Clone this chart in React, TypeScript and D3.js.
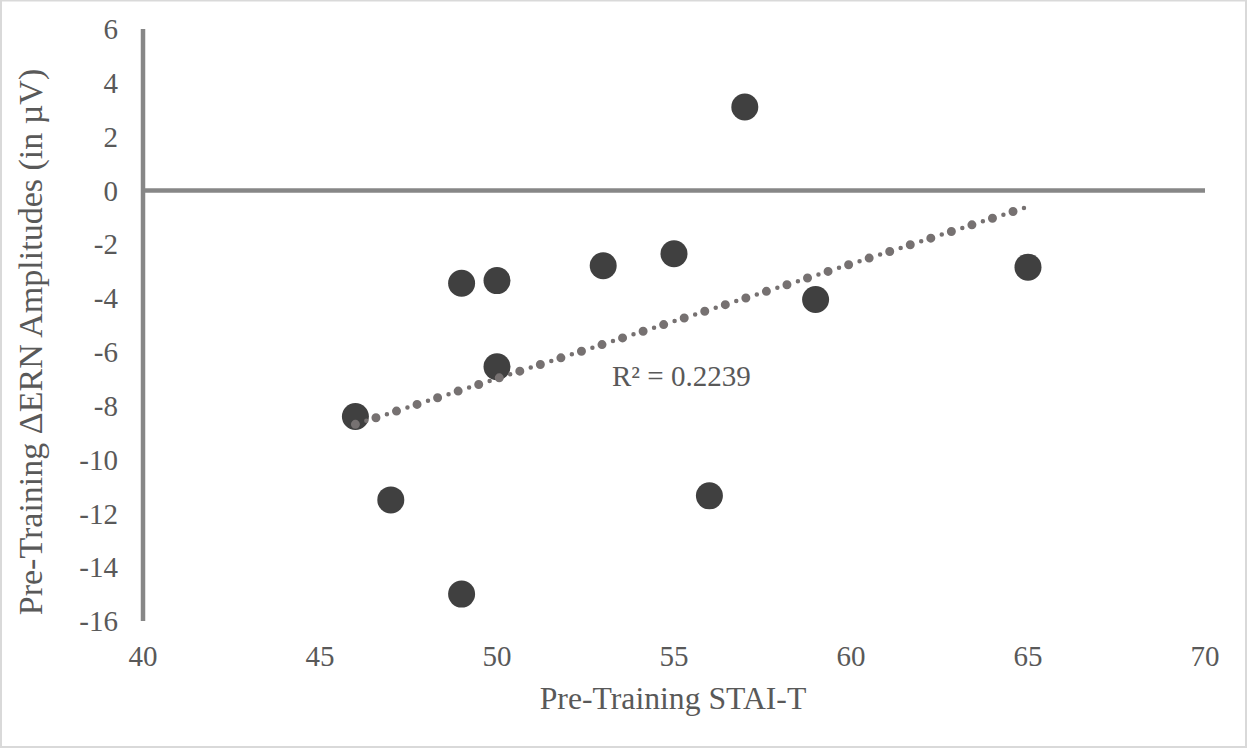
import { useEffect, useRef } from "react"
import * as d3 from "d3"

// Pre-Training STAI-T scores
const staiT = [46, 47, 49, 49, 50, 50, 53, 55, 56, 57, 59, 65]
// Pre-Training ΔERN amplitudes (µV)
const deltaERN = [-8.4, -11.5, -3.45, -15, -3.35, -6.55, -2.8, -2.35, -11.35, 3.1, -4.05, -2.85]

const xTicks = [40, 45, 50, 55, 60, 65, 70]
const yTicks = [6, 4, 2, 0, -2, -4, -6, -8, -10, -12, -14, -16]

const xTitle = "Pre-Training STAI-T"
const yTitle = "Pre-Training ΔERN Amplitudes (in µV)"
const r2Label = "R² = 0.2239"

const W = 1247
const H = 748
const FONT = "'Liberation Serif', 'Times New Roman', serif"

export default function App() {
  const svgRef = useRef<SVGSVGElement>(null)

  useEffect(() => {
    if (!svgRef.current) return
    const svg = d3.select(svgRef.current)
    svg.selectAll("*").remove()

    const x = d3.scaleLinear().domain([40, 70]).range([143, 1205])
    const y = d3.scaleLinear().domain([-16, 6]).range([621, 29])

    // Chart border
    svg
      .append("rect")
      .attr("x", 1)
      .attr("y", 0.5)
      .attr("width", W - 2)
      .attr("height", H - 1.5)
      .attr("fill", "#fff")
      .attr("stroke", "#d9d9d9")
      .attr("stroke-width", 2)

    // Y axis line
    svg
      .append("line")
      .attr("x1", x(40))
      .attr("x2", x(40))
      .attr("y1", y(6))
      .attr("y2", y(-16))
      .attr("stroke", "#878787")
      .attr("stroke-width", 4.5)

    // X axis line at y = 0
    svg
      .append("line")
      .attr("x1", x(40))
      .attr("x2", x(70))
      .attr("y1", y(0))
      .attr("y2", y(0))
      .attr("stroke", "#878787")
      .attr("stroke-width", 4.5)

    // Y tick labels
    svg
      .append("g")
      .selectAll("text")
      .data(yTicks)
      .enter()
      .append("text")
      .attr("x", 118)
      .attr("y", (d) => y(d))
      .attr("dy", "0.35em")
      .attr("text-anchor", "end")
      .attr("font-family", FONT)
      .attr("font-size", 29)
      .attr("fill", "#595959")
      .text((d) => d)

    // X tick labels (low position)
    svg
      .append("g")
      .selectAll("text")
      .data(xTicks)
      .enter()
      .append("text")
      .attr("x", (d) => x(d))
      .attr("y", 666)
      .attr("text-anchor", "middle")
      .attr("font-family", FONT)
      .attr("font-size", 29)
      .attr("fill", "#595959")
      .text((d) => d)

    // Axis titles
    svg
      .append("text")
      .attr("x", 673)
      .attr("y", 709)
      .attr("text-anchor", "middle")
      .attr("font-family", FONT)
      .attr("font-size", 31.7)
      .attr("fill", "#595959")
      .text(xTitle)

    svg
      .append("text")
      .attr("transform", `translate(42,342) rotate(-90)`)
      .attr("text-anchor", "middle")
      .attr("font-family", FONT)
      .attr("font-size", 34)
      .attr("fill", "#595959")
      .text(yTitle)

    // Points
    const pts = staiT.map((v, i) => ({ x: v, y: deltaERN[i] }))
    svg
      .append("g")
      .selectAll("circle")
      .data(pts)
      .enter()
      .append("circle")
      .attr("cx", (d) => x(d.x))
      .attr("cy", (d) => y(d.y))
      .attr("r", 13.5)
      .attr("fill", "#404040")

    // Linear trendline (least squares)
    const mx = d3.mean(staiT) as number
    const my = d3.mean(deltaERN) as number
    let sxy = 0
    let sxx = 0
    pts.forEach((p) => {
      sxy += (p.x - mx) * (p.y - my)
      sxx += (p.x - mx) * (p.x - mx)
    })
    const slope = sxy / sxx
    const icpt = my - slope * mx
    const [x0, x1] = d3.extent(staiT) as [number, number]
    const trend = [x0, x1].map((v) => ({ x: v, y: icpt + slope * v }))
    const line = d3
      .line<{ x: number; y: number }>()
      .x((d) => x(d.x))
      .y((d) => y(d.y))

    svg
      .append("path")
      .attr("d", line(trend))
      .attr("fill", "none")
      .attr("stroke", "#767171")
      .attr("stroke-width", 9)
      .attr("stroke-linecap", "round")
      .attr("stroke-dasharray", "0 21.6")

    svg
      .append("path")
      .attr("d", line(trend))
      .attr("fill", "none")
      .attr("stroke", "#767171")
      .attr("stroke-width", 4.5)
      .attr("stroke-linecap", "round")
      .attr("stroke-dasharray", "0 21.6")
      .attr("stroke-dashoffset", -11.5)

    // R² label
    svg
      .append("text")
      .attr("x", 612)
      .attr("y", 386)
      .attr("font-family", FONT)
      .attr("font-size", 29)
      .attr("fill", "#595959")
      .text(r2Label)
  }, [])

  return (
    <div style={{ position: "fixed", left: 0, top: 0 }}>
      <svg ref={svgRef} width={W} height={H} style={{ display: "block" }} />
    </div>
  )
}
